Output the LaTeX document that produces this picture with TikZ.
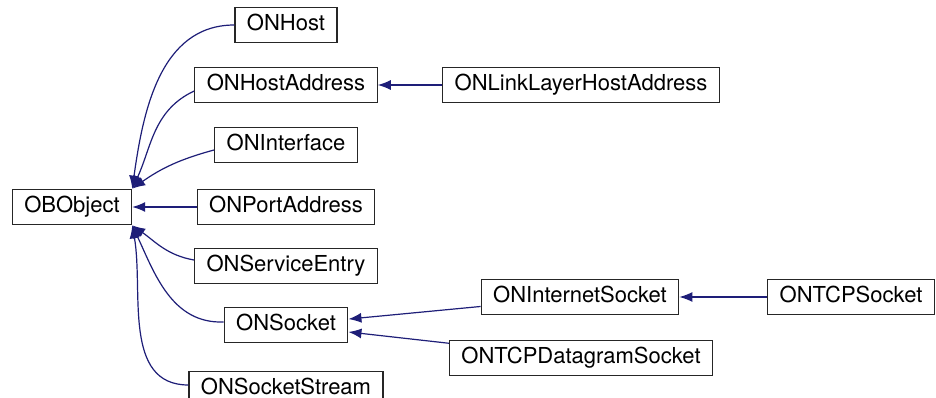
\documentclass[tikz,border=0pt]{standalone}
\usepackage{fontspec}
\setmainfont{TeX Gyre Heros}
\usepackage{tikz}
\usetikzlibrary{arrows.meta}
\tikzset{>={Latex[length=13pt,width=10pt]}}
\definecolor{edgeblue}{RGB}{30,30,120}
\tikzset{
  cls/.style={draw=black!85, line width=1.2pt, fill=white, inner xsep=12pt, inner ysep=8pt,
    text height=15.5pt, text depth=4pt, font=\fontsize{22}{26}\selectfont},
  inh/.style={->, draw=edgeblue, line width=1.2pt}
}

\begin{document}
\begin{tikzpicture}[x=1pt, y=-1pt]
                \clip (0, 0) rectangle (936, 398);
                \fill[white] (0, 0) rectangle (936, 398);
                \node[cls] (obobject) at (72, 207) {OBObject};
                \node[cls] (onhost) at (286, 25) {ONHost};
                \node[cls] (onhostaddr) at (286, 85) {ONHostAddress};
                \node[cls] (onlinkaddr) at (581, 85) {ONLinkLayerHostAddress};
                \node[cls] (oniface) at (286, 145) {ONInterface};
                \node[cls] (onportaddr) at (286, 207) {ONPortAddress};
                \node[cls] (onservice) at (286, 266) {ONServiceEntry};
                \node[cls] (onsocket) at (286, 325) {ONSocket};
                \node[cls] (onstream) at (286, 389) {ONSocketStream};
                \node[cls] (oninetsock) at (580, 297) {ONInternetSocket};
                \node[cls] (ondgramsock) at (581, 358) {ONTCPDatagramSocket};
                \node[cls] (ontcpsock) at (851, 297) {ONTCPSocket};
                % subclasses of OBObject
                \draw[inh] (onhost.west) to[out=180, in=82] (obobject.north east);
                \draw[inh] ([yshift=-6pt]onhostaddr.west) to[out=205, in=65] (obobject.north east);
                \draw[inh] ([yshift=-5pt]oniface.west) to[out=195, in=35] (obobject.north east);
                \draw[inh] (onportaddr.west) -- (obobject.east);
                \draw[inh] ([yshift=6pt]onservice.west) to[out=170, in=-35] (obobject.south east);
                \draw[inh] ([yshift=3pt]onsocket.west) to[out=182, in=-65] (obobject.south east);
                \draw[inh] ([yshift=4pt]onstream.west) to[out=180, in=-80] (obobject.south east);
                % deeper levels
                \draw[inh] (onlinkaddr) -- (onhostaddr);
                \draw[inh] (oninetsock) -- (onsocket);
                \draw[inh] (ondgramsock) -- (onsocket);
                \draw[inh] (ontcpsock) -- (oninetsock);
            \end{tikzpicture}
\end{document}
